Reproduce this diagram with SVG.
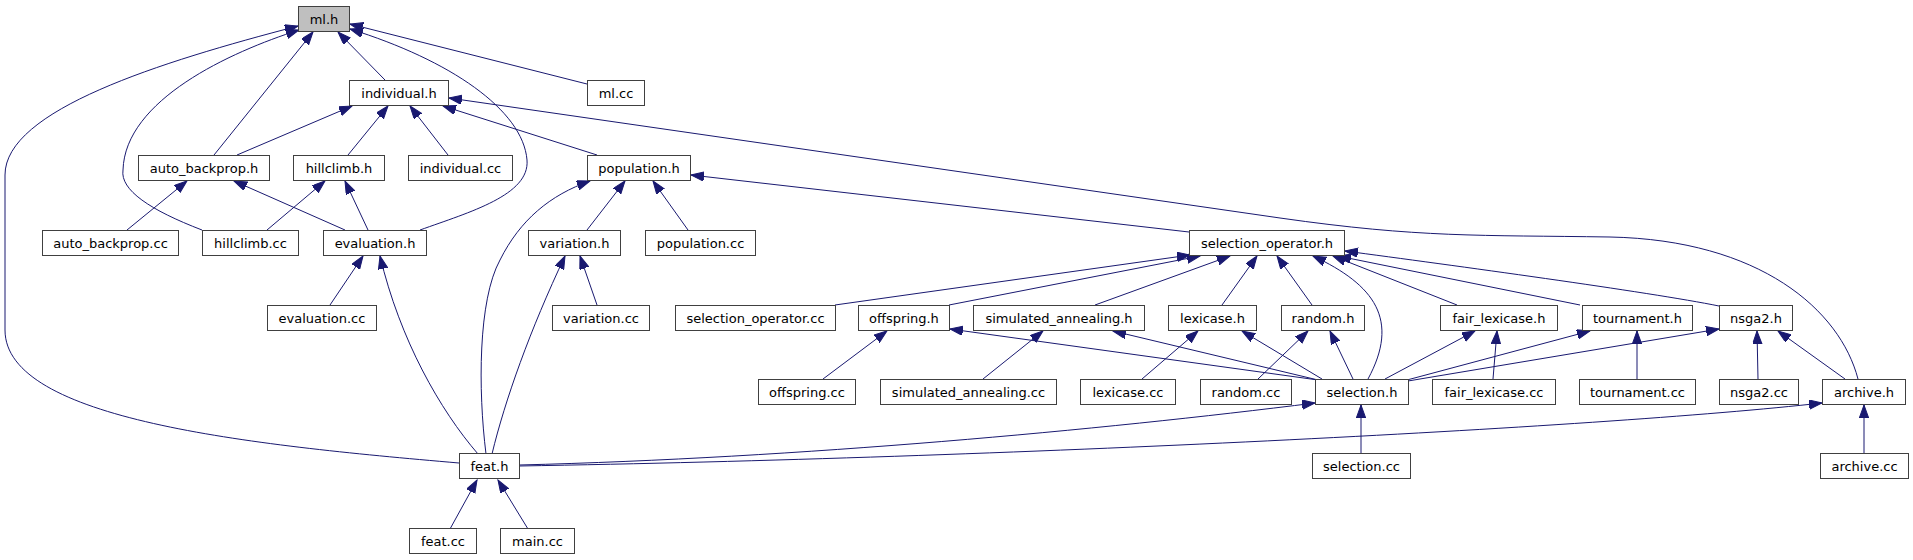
<svg xmlns="http://www.w3.org/2000/svg" width="1913" height="560" viewBox="0 0 1913 560">
<style>
.n rect{fill:#ffffff;stroke:#404040;stroke-width:1}
.n.root rect{fill:#bfbfbf}
.n text{font-family:"DejaVu Sans","Liberation Sans",sans-serif;font-size:13px;fill:#000;text-anchor:middle}
#edges path{fill:none;stroke:#191970;stroke-width:1;marker-end:url(#ah)}
</style>
<defs>
<marker id="ah" markerUnits="userSpaceOnUse" markerWidth="14" markerHeight="10" refX="13" refY="4.7" orient="auto">
<path d="M0,0 L13,4.7 L0,9.4 z" fill="#191970" stroke="#191970" stroke-width="1"/>
</marker>
</defs>
<rect width="1913" height="560" fill="#ffffff"/>
<g id="edges">
<path d="M459,463 C250,445 5,420 5,330 L5,175 C5,110 160,62 298,26"/>
<path d="M202,230 C150,210 120,190 123,170 C125,100 230,52 299,30"/>
<path d="M214,155 L313,32"/>
<path d="M385,80 L338,32"/>
<path d="M420,230 C470,212 530,195 527,160 C523,110 450,60 350,29"/>
<path d="M587,84 L350,24"/>
<path d="M237,155 L352,106"/>
<path d="M348,155 L388,106"/>
<path d="M448,155 L410,106"/>
<path d="M597,155 L443,106"/>
<path d="M1858,379 C1840,310 1760,240 1610,237 C1480,235 1420,238 1280,218 L449,98"/>
<path d="M127,230 L187,181"/>
<path d="M345,230 L234,181"/>
<path d="M267,230 L325,181"/>
<path d="M368,230 L345,181"/>
<path d="M330,305 L363,256"/>
<path d="M478,454 C440,410 400,340 380,256"/>
<path d="M486,454 C478,390 478,300 500,260 C520,220 550,195 590,181"/>
<path d="M587,230 L625,181"/>
<path d="M688,230 L653,181"/>
<path d="M1189,232 L691,175"/>
<path d="M597,305 L580,256"/>
<path d="M492,454 C505,400 530,330 565,256"/>
<path d="M835,305 L1190,255"/>
<path d="M949,305 L1200,256"/>
<path d="M1095,305 L1230,256"/>
<path d="M1222,305 L1257,256"/>
<path d="M1312,305 L1277,256"/>
<path d="M1368,379 C1400,320 1375,285 1313,256"/>
<path d="M1457,305 L1333,256"/>
<path d="M1580,305 L1338,256"/>
<path d="M1719,306 C1650,292 1450,265 1345,251"/>
<path d="M823,379 L887,331"/>
<path d="M1318,380 L950,329"/>
<path d="M983,379 L1043,331"/>
<path d="M1318,380 L1113,331"/>
<path d="M1142,379 L1198,331"/>
<path d="M1322,379 L1242,331"/>
<path d="M1258,379 L1308,331"/>
<path d="M1353,379 L1330,331"/>
<path d="M1385,379 L1475,331"/>
<path d="M1493,379 L1497,331"/>
<path d="M1407,380 L1590,331"/>
<path d="M1637,379 L1637,331"/>
<path d="M1408,381 L1719,329"/>
<path d="M1758,379 L1757,331"/>
<path d="M1845,379 L1778,331"/>
<path d="M1864,454 L1864,405"/>
<path d="M519,466 C1000,458 1600,428 1822,403"/>
<path d="M519,465 C800,458 1100,430 1315,403"/>
<path d="M1361,454 L1361,405"/>
<path d="M450,529 L477,480"/>
<path d="M528,529 L498,480"/>
</g>
<g id="n_ml_h" class="n root"><rect x="298.5" y="6.5" width="51" height="25"/><text x="324" y="23.5">ml.h</text></g>
<g id="n_individual_h" class="n"><rect x="349.5" y="80.5" width="99" height="25"/><text x="399" y="97.5">individual.h</text></g>
<g id="n_ml_cc" class="n"><rect x="587.5" y="80.5" width="57" height="25"/><text x="616" y="97.5">ml.cc</text></g>
<g id="n_auto_backprop_h" class="n"><rect x="138.5" y="155.5" width="131" height="25"/><text x="204" y="172.5">auto_backprop.h</text></g>
<g id="n_hillclimb_h" class="n"><rect x="293.5" y="155.5" width="91" height="25"/><text x="339" y="172.5">hillclimb.h</text></g>
<g id="n_individual_cc" class="n"><rect x="408.5" y="155.5" width="104" height="25"/><text x="460.5" y="172.5">individual.cc</text></g>
<g id="n_population_h" class="n"><rect x="587.5" y="155.5" width="103" height="25"/><text x="639" y="172.5">population.h</text></g>
<g id="n_auto_backprop_cc" class="n"><rect x="42.5" y="230.5" width="136" height="25"/><text x="110.5" y="247.5">auto_backprop.cc</text></g>
<g id="n_hillclimb_cc" class="n"><rect x="202.5" y="230.5" width="96" height="25"/><text x="250.5" y="247.5">hillclimb.cc</text></g>
<g id="n_evaluation_h" class="n"><rect x="323.5" y="230.5" width="103" height="25"/><text x="375" y="247.5">evaluation.h</text></g>
<g id="n_variation_h" class="n"><rect x="528.5" y="230.5" width="92" height="25"/><text x="574.5" y="247.5">variation.h</text></g>
<g id="n_population_cc" class="n"><rect x="645.5" y="230.5" width="110" height="25"/><text x="700.5" y="247.5">population.cc</text></g>
<g id="n_selection_operator_h" class="n"><rect x="1189.5" y="230.5" width="155" height="25"/><text x="1267" y="247.5">selection_operator.h</text></g>
<g id="n_evaluation_cc" class="n"><rect x="267.5" y="305.5" width="109" height="25"/><text x="322" y="322.5">evaluation.cc</text></g>
<g id="n_variation_cc" class="n"><rect x="552.5" y="305.5" width="97" height="25"/><text x="601" y="322.5">variation.cc</text></g>
<g id="n_selection_operator_cc" class="n"><rect x="675.5" y="305.5" width="160" height="25"/><text x="755.5" y="322.5">selection_operator.cc</text></g>
<g id="n_offspring_h" class="n"><rect x="858.5" y="305.5" width="91" height="25"/><text x="904" y="322.5">offspring.h</text></g>
<g id="n_simulated_annealing_h" class="n"><rect x="973.5" y="305.5" width="171" height="25"/><text x="1059" y="322.5">simulated_annealing.h</text></g>
<g id="n_lexicase_h" class="n"><rect x="1168.5" y="305.5" width="88" height="25"/><text x="1212.5" y="322.5">lexicase.h</text></g>
<g id="n_random_h" class="n"><rect x="1281.5" y="305.5" width="83" height="25"/><text x="1323" y="322.5">random.h</text></g>
<g id="n_fair_lexicase_h" class="n"><rect x="1440.5" y="305.5" width="117" height="25"/><text x="1499" y="322.5">fair_lexicase.h</text></g>
<g id="n_tournament_h" class="n"><rect x="1582.5" y="305.5" width="110" height="25"/><text x="1637.5" y="322.5">tournament.h</text></g>
<g id="n_nsga2_h" class="n"><rect x="1719.5" y="305.5" width="73" height="25"/><text x="1756" y="322.5">nsga2.h</text></g>
<g id="n_offspring_cc" class="n"><rect x="758.5" y="379.5" width="97" height="25"/><text x="807" y="396.5">offspring.cc</text></g>
<g id="n_simulated_annealing_cc" class="n"><rect x="880.5" y="379.5" width="176" height="25"/><text x="968.5" y="396.5">simulated_annealing.cc</text></g>
<g id="n_lexicase_cc" class="n"><rect x="1080.5" y="379.5" width="95" height="25"/><text x="1128" y="396.5">lexicase.cc</text></g>
<g id="n_random_cc" class="n"><rect x="1200.5" y="379.5" width="91" height="25"/><text x="1246" y="396.5">random.cc</text></g>
<g id="n_selection_h" class="n"><rect x="1315.5" y="379.5" width="93" height="25"/><text x="1362" y="396.5">selection.h</text></g>
<g id="n_fair_lexicase_cc" class="n"><rect x="1432.5" y="379.5" width="123" height="25"/><text x="1494" y="396.5">fair_lexicase.cc</text></g>
<g id="n_tournament_cc" class="n"><rect x="1579.5" y="379.5" width="116" height="25"/><text x="1637.5" y="396.5">tournament.cc</text></g>
<g id="n_nsga2_cc" class="n"><rect x="1719.5" y="379.5" width="79" height="25"/><text x="1759" y="396.5">nsga2.cc</text></g>
<g id="n_archive_h" class="n"><rect x="1822.5" y="379.5" width="83" height="25"/><text x="1864" y="396.5">archive.h</text></g>
<g id="n_feat_h" class="n"><rect x="459.5" y="453.5" width="60" height="25"/><text x="489.5" y="470.5">feat.h</text></g>
<g id="n_selection_cc" class="n"><rect x="1312.5" y="453.5" width="98" height="25"/><text x="1361.5" y="470.5">selection.cc</text></g>
<g id="n_archive_cc" class="n"><rect x="1820.5" y="453.5" width="88" height="25"/><text x="1864.5" y="470.5">archive.cc</text></g>
<g id="n_feat_cc" class="n"><rect x="409.5" y="528.5" width="67" height="25"/><text x="443" y="545.5">feat.cc</text></g>
<g id="n_main_cc" class="n"><rect x="500.5" y="528.5" width="74" height="25"/><text x="537.5" y="545.5">main.cc</text></g>
</svg>
